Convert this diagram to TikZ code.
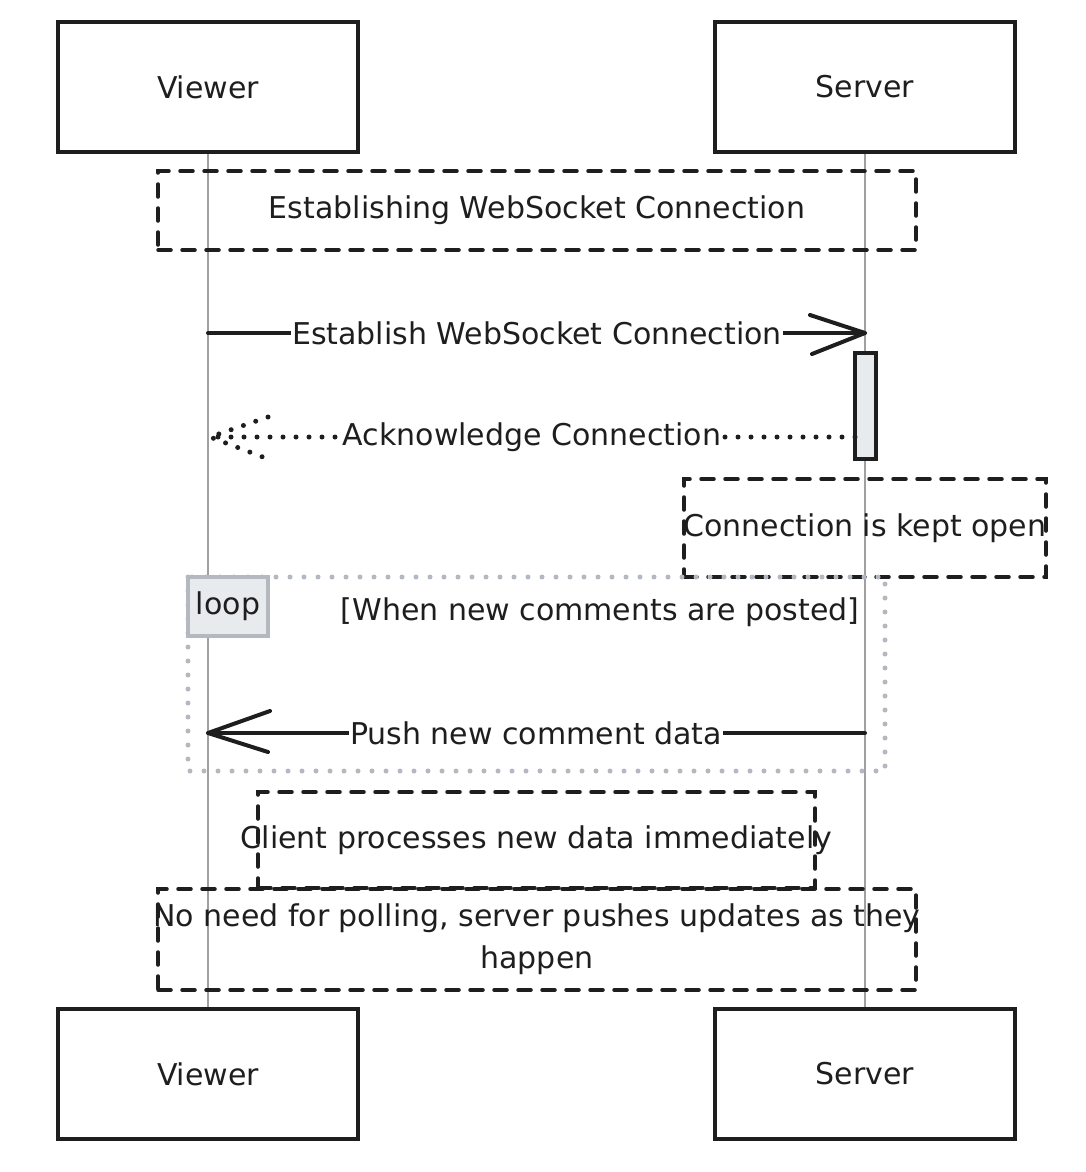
\documentclass[tikz,border=0pt]{standalone}
\usepackage{fontspec}
\setmainfont{DejaVu Sans}
\usetikzlibrary{calc}
\definecolor{ink}{HTML}{1E1E1E}
\definecolor{life}{HTML}{A0A0A0}
\definecolor{loopgray}{HTML}{B4B9C1}
\definecolor{actfill}{HTML}{E8EBEE}
\begin{document}
\begin{tikzpicture}[x=1pt,y=-1pt,
  every node/.style={font=\fontsize{30}{36}\selectfont, text=ink},
  actor/.style={draw=ink, line width=3.5pt, rectangle, minimum width=300pt, minimum height=130pt, inner sep=0pt},
  notebox/.style={draw=ink, line width=3.5pt, rectangle, inner sep=0pt, dash pattern=on 13pt off 11pt, line cap=round},
  lifeline/.style={draw=life, line width=1.6pt},
  msg/.style={draw=ink, line width=4pt, line cap=round, line join=round},
  dotmsg/.style={draw=ink, line width=5pt, line cap=round, dash pattern=on 0pt off 13pt},
  lbl/.style={fill=white, inner sep=1pt},
]
\useasboundingbox (0,0) rectangle (1086,1172);
% actors
\node[actor] (vtop) at (208,87) {Viewer};
\node[actor] (stop) at (865,87) {Server};
\node[actor] (vbot) at (208,1074) {Viewer};
\node[actor] (sbot) at (865,1074) {Server};
% lifelines
\draw[lifeline] (vtop.south) -- (vbot.north);
\draw[lifeline] (stop.south) -- (sbot.north);
% note 1
\node[notebox, minimum width=758pt, minimum height=79pt,
  label={center:Establishing WebSocket Connection}] (n1) at (537,210.5) {};
% message 1
\coordinate (m1s) at (208,333);
\coordinate (m1e) at (865,333);
\draw[msg] (m1s) -- (m1e);
\draw[msg] ($(m1e)+(-55,-18)$) -- (m1e) -- ($(m1e)+(-53,21)$);
\node[lbl] (l1) at (537,333) {Establish WebSocket Connection};
% activation
\node[draw=ink, fill=actfill, line width=3.5pt, minimum width=21pt, minimum height=106pt, inner sep=0pt] (act) at (865.5,406) {};
% message 2
\coordinate (m2s) at (855,437);
\coordinate (m2e) at (210,437);
\draw[dotmsg] (m2s) -- (m2e);
\draw[dotmsg] ($(m2e)+(58,-20)$) -- (m2e) -- ($(m2e)+(58,22)$);
\node[lbl] (l2) at (532,437) {Acknowledge Connection};
% note 2
\node[notebox, minimum width=362pt, minimum height=98pt,
  label={center:Connection is kept open}] (n2) at (865,528) {};
% loop
\draw[draw=loopgray, line width=5pt, line cap=round, dash pattern=on 0pt off 14pt] (188,577) rectangle (885,771);
\node[draw=loopgray, fill=actfill, line width=3.5pt, minimum width=80pt, minimum height=59pt, inner sep=0pt] (loopl) at (228,606.5) {loop};
\node (cond) at (600,612) {[When new comments are posted]};
% message 3
\coordinate (m3s) at (865,733);
\coordinate (m3e) at (208,733);
\draw[msg] (m3s) -- (m3e);
\draw[msg] ($(m3e)+(62,-22)$) -- (m3e) -- ($(m3e)+(60,19)$);
\node[lbl] (l3) at (536,733) {Push new comment data};
% note 3
\node[notebox, minimum width=557pt, minimum height=96pt,
  label={center:Client processes new data immediately}] (n3) at (536.5,840) {};
% note 4
\node[notebox, minimum width=758pt, minimum height=101pt,
  label={[align=center, font=\fontsize{30}{42}\selectfont]center:{No need for polling, server pushes updates as they\\happen}}] (n4) at (537,939.5) {};
\end{tikzpicture}
\end{document}
